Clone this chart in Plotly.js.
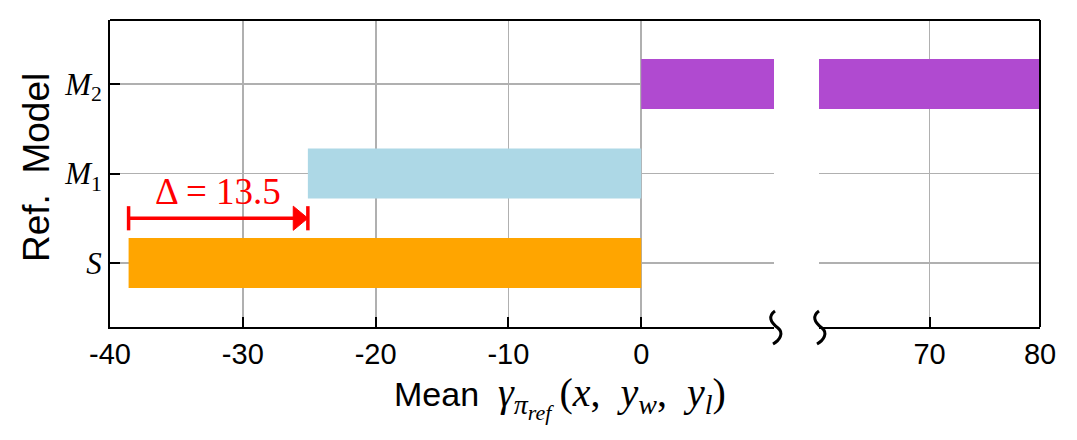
<!DOCTYPE html>
<html>
<head>
<meta charset="utf-8">
<script src="https://cdn.plot.ly/plotly-3.0.1.min.js"></script>
<style>html,body{margin:0;padding:0;background:#fff;}#chart{width:1077px;height:440px;}</style>
</head>
<body>
<div id="chart"></div>
<script>
// ---- data ----
const categories = ['S', 'M1', 'M2'];
const categoryLabels = ['<i>S</i>', '<i>M</i><sub>1</sub>', '<i>M</i><sub>2</sub>'];
const meanValues = [-38.6, -25.1, 85];
const barColors = ['#ffa500', '#add8e6', '#b04ad0'];
const leftTicks = [-40, -30, -20, -10, 0];
const leftTickLabels = ['-40', '-30', '-20', '-10', '0'];
const rightTicks = [70, 80];
const rightTickLabels = ['70', '80'];
const leftRange = [-40, 10];
const rightRange = [60, 80];

// ---- geometry helpers (pixel -> paper) ----
const L = 110, T = 20, W = 930, H = 307;
const px = v => (v - L) / W;
const py = v => (T + H - v) / H;
function squiggle(dx) {
  const p = [[775, 311], [768, 316], [770, 322], [778, 328], [784, 333], [780, 340], [773, 344]]
    .map(([a, b]) => [px(a + dx), py(b)]);
  return `M ${p[0][0]},${p[0][1]} C ${p[1][0]},${p[1][1]} ${p[2][0]},${p[2][1]} ${p[3][0]},${p[3][1]} C ${p[4][0]},${p[4][1]} ${p[5][0]},${p[5][1]} ${p[6][0]},${p[6][1]}`;
}

const barCommon = {
  type: 'bar', orientation: 'h', y: categories, x: meanValues,
  width: 0.56, marker: { color: barColors, line: { width: 0 } },
  hoverinfo: 'x+y', showlegend: false
};
const traces = [
  Object.assign({}, barCommon, { xaxis: 'x', yaxis: 'y' }),
  Object.assign({}, barCommon, { xaxis: 'x2', yaxis: 'y' })
];

const sVal = meanValues[0], m1Val = meanValues[1];
const arrowY = 0.5, capH = 0.135, headLen = 1.1;
const red = '#ff0000';

const shapes = [
  { type: 'line', xref: 'x', yref: 'y', x0: sVal, x1: m1Val - headLen * 0.5, y0: arrowY, y1: arrowY, line: { color: red, width: 3.5 } },
  { type: 'line', xref: 'x', yref: 'y', x0: sVal, x1: sVal, y0: arrowY - capH, y1: arrowY + capH, line: { color: red, width: 3.5 } },
  { type: 'line', xref: 'x', yref: 'y', x0: m1Val, x1: m1Val, y0: arrowY - capH, y1: arrowY + capH, line: { color: red, width: 3.5 } },
  { type: 'path', xref: 'x', yref: 'y',
    path: `M ${m1Val - headLen},${arrowY - capH} L ${m1Val - headLen},${arrowY + capH} L ${m1Val},${arrowY} Z`,
    fillcolor: red, line: { color: red, width: 1 } },
  { type: 'line', xref: 'paper', yref: 'paper', x0: 0, x1: 1, y0: 1, y1: 1, line: { color: '#000', width: 2 } },
  { type: 'line', xref: 'paper', yref: 'paper', x0: 1, x1: 1, y0: 0, y1: 1, line: { color: '#000', width: 2 } },
  { type: 'path', xref: 'paper', yref: 'paper', path: squiggle(0), line: { color: '#000', width: 3 } },
  { type: 'path', xref: 'paper', yref: 'paper', path: squiggle(44), line: { color: '#000', width: 3 } }
];

const mathFont = 'Liberation Serif, DejaVu Serif, serif';
const sansFont = 'Liberation Sans, Arial, sans-serif';

const xTitle = 'Mean\u00a0 <span style="font-family:Liberation Serif;font-size:40px">' +
  '<i>γ</i><sub><i>π<sub><span style="font-size:22px">ref</span></sub></i></sub>\u2009' +
  '(<i>x</i>,\u00a0\u00a0<i>y</i><sub><i>w</i></sub>,\u00a0\u00a0<i>y</i><sub><i>l</i></sub>)</span>';

const annotations = [
  { xref: 'x', yref: 'y', x: (sVal + m1Val) / 2, y: 0.8, showarrow: false,
    text: 'Δ = ' + (m1Val - sVal).toFixed(1), font: { family: mathFont, size: 37, color: red } },
  { xref: 'paper', yref: 'paper', x: px(560), y: py(397), showarrow: false, xanchor: 'center', yanchor: 'middle',
    text: xTitle, font: { family: sansFont, size: 34, color: '#000' } },
  { xref: 'paper', yref: 'paper', x: px(36), y: py(168), showarrow: false, textangle: -90, xanchor: 'center', yanchor: 'middle',
    text: 'Ref.\u00a0 Model', font: { family: sansFont, size: 37, color: '#000' } }
];

const xCommon = {
  showline: true, linecolor: '#000', linewidth: 2,
  ticks: 'inside', ticklen: 10, tickwidth: 2, tickcolor: '#000',
  showgrid: true, gridcolor: '#b0b0b0', gridwidth: 1.8,
  zeroline: false, tickmode: 'array',
  tickfont: { family: sansFont, size: 29, color: '#000' }
};

const layout = {
  width: 1077, height: 440,
  margin: { l: L, r: 1077 - L - W, t: T, b: 440 - T - H },
  paper_bgcolor: '#fff', plot_bgcolor: '#fff',
  showlegend: false,
  xaxis: Object.assign({}, xCommon, { domain: [0, px(774)], range: leftRange, tickvals: leftTicks, ticktext: leftTickLabels, anchor: 'y' }),
  xaxis2: Object.assign({}, xCommon, { domain: [px(819), 1], range: rightRange, tickvals: rightTicks, ticktext: rightTickLabels, anchor: 'y' }),
  yaxis: {
    type: 'category', categoryorder: 'array', categoryarray: categories,
    range: [-0.715, 2.715], anchor: 'x',
    tickmode: 'array', tickvals: categories, ticktext: categoryLabels,
    showline: true, linecolor: '#000', linewidth: 2,
    ticks: 'inside', ticklen: 10, tickwidth: 2, tickcolor: '#000',
    showgrid: true, gridcolor: '#b0b0b0', gridwidth: 1.8, zeroline: false,
    tickfont: { family: mathFont, size: 31, color: '#000' }
  },
  shapes: shapes,
  annotations: annotations
};

Plotly.newPlot('chart', traces, layout, { displayModeBar: false, staticPlot: true });
</script>
</body>
</html>
